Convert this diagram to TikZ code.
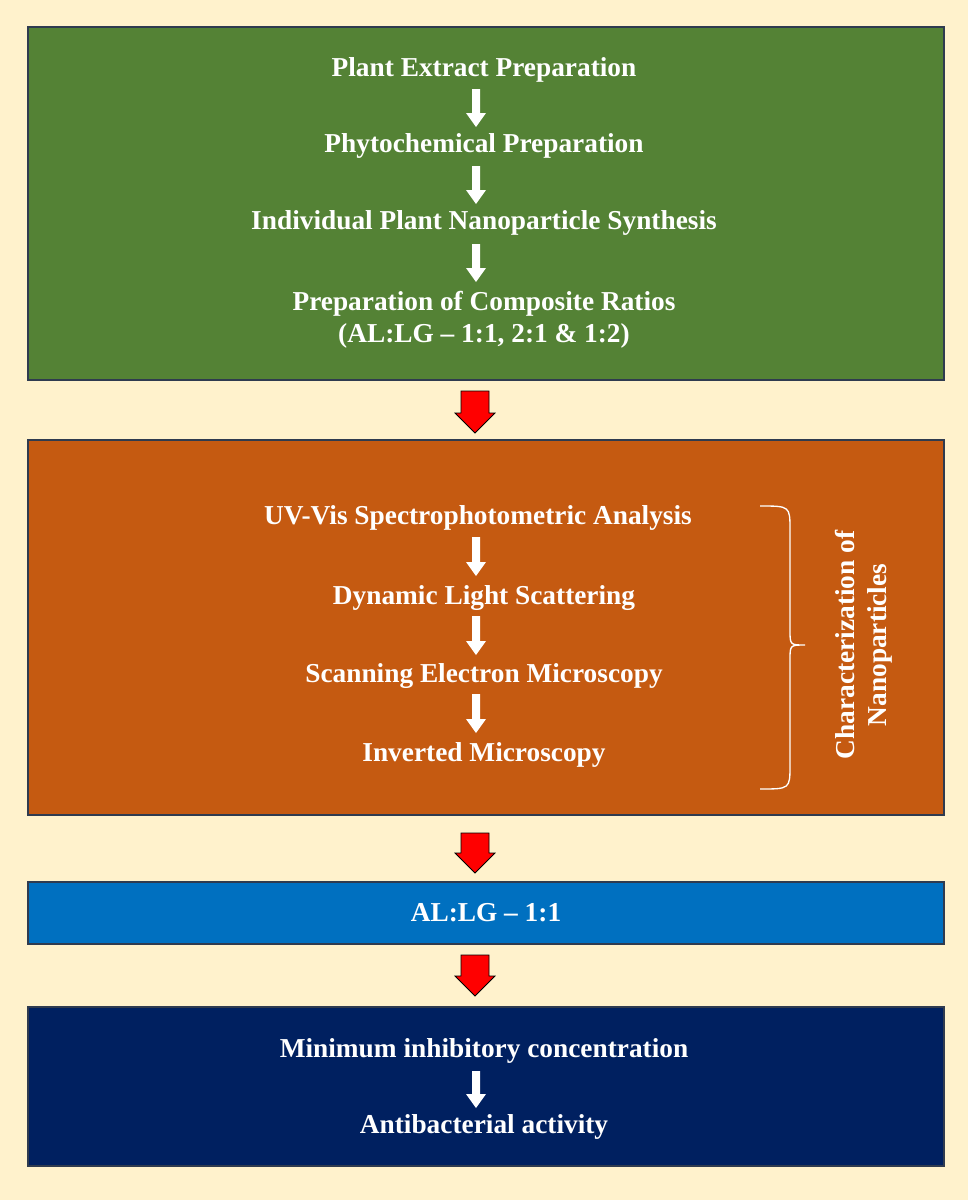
\documentclass[tikz,border=0pt]{standalone}
\usepackage{fontspec}
\setmainfont{Liberation Serif}
\usetikzlibrary{decorations.pathreplacing}
\definecolor{bg}{HTML}{FFF2CC}
\definecolor{gbox}{HTML}{548235}
\definecolor{obox}{HTML}{C55A11}
\definecolor{bbox}{HTML}{0070C0}
\definecolor{nbox}{HTML}{002060}
\definecolor{edge}{HTML}{2F3B4F}
\newcommand\darr[6]{% x, ytop, ybot, shafthalf, headhalf, headlen ; style
  \fill[#6] (#1-#4,#2) -- (#1+#4,#2) -- (#1+#4,#3-#5*0+#3*0-#3+#3-#6len) -- cycle;}
\newcommand\arrowdn[7]{%
  \filldraw[#7] (#1-#4,#2) -- (#1+#4,#2) -- (#1+#4,#3-#6) -- (#1+#5,#3-#6) -- (#1,#3) -- (#1-#5,#3-#6) -- (#1-#4,#3-#6) -- cycle;}
\tikzset{
  box/.style={draw=edge, line width=0.8pt},
  lbl/.style={text=white, font=\bfseries\fontsize{20.5}{24}\selectfont, align=center},
  warr/.style={fill=white, draw=none},
  rarr/.style={fill=red, draw=black, line width=0.6pt},
}
\begin{document}
\begin{tikzpicture}[x=0.75pt,y=-0.75pt]
\fill[bg] (0,0) rectangle (968,1200);
\useasboundingbox (0,0) rectangle (968,1200);
\draw[box, fill=gbox] (28,27) rectangle (944,380);
\draw[box, fill=obox] (28,440) rectangle (944,815);
\draw[box, fill=bbox] (28,882) rectangle (944,944);
\draw[box, fill=nbox] (28,1007) rectangle (944,1166);

\node[lbl] (g1) at (484,70) {Plant Extract Preparation};
\node[lbl] (g2) at (484,146) {Phytochemical Preparation};
\node[lbl] (g3) at (484,223) {Individual Plant Nanoparticle Synthesis};
\node[lbl] (g4) at (484,320) {Preparation of Composite Ratios\\(AL:LG -- 1:1, 2:1 \& 1:2)};
\node[lbl] (o1) at (478,518) {UV-Vis Spectrophotometric Analysis};
\node[lbl] (o2) at (484,598) {Dynamic Light Scattering};
\node[lbl] (o3) at (484,676) {Scanning Electron Microscopy};
\node[lbl] (o4) at (484,755) {Inverted Microscopy};
\node[lbl] (b1) at (486,913) {AL:LG -- 1:1};
\node[lbl] (n1) at (484,1051) {Minimum inhibitory concentration};
\node[lbl] (n2) at (484,1127) {Antibacterial activity};
\node[lbl, rotate=90] (ch) at (864,645) {Characterization of\\Nanoparticles};

\arrowdn{476}{89}{127}{4}{10}{14}{warr}
\arrowdn{476}{166}{204}{4}{10}{14}{warr}
\arrowdn{476}{244}{282}{4}{10}{14}{warr}
\arrowdn{476}{537}{576}{4}{10}{14}{warr}
\arrowdn{476}{616}{655}{4}{10}{14}{warr}
\arrowdn{476}{694}{733}{4}{10}{14}{warr}
\arrowdn{476}{1071}{1108}{4}{10}{14}{warr}

\arrowdn{475}{391}{433}{14}{20}{20}{rarr}
\arrowdn{475}{833}{873}{14}{20}{20}{rarr}
\arrowdn{475}{955}{996}{14}{20}{20}{rarr}

\draw[white, line width=1pt] (760,506) .. controls (790,506) .. (790,530) -- (790,630) .. controls (790,645) .. (805,645) .. controls (790,645) .. (790,660) -- (790,765) .. controls (790,789) .. (760,789);
\end{tikzpicture}
\end{document}
